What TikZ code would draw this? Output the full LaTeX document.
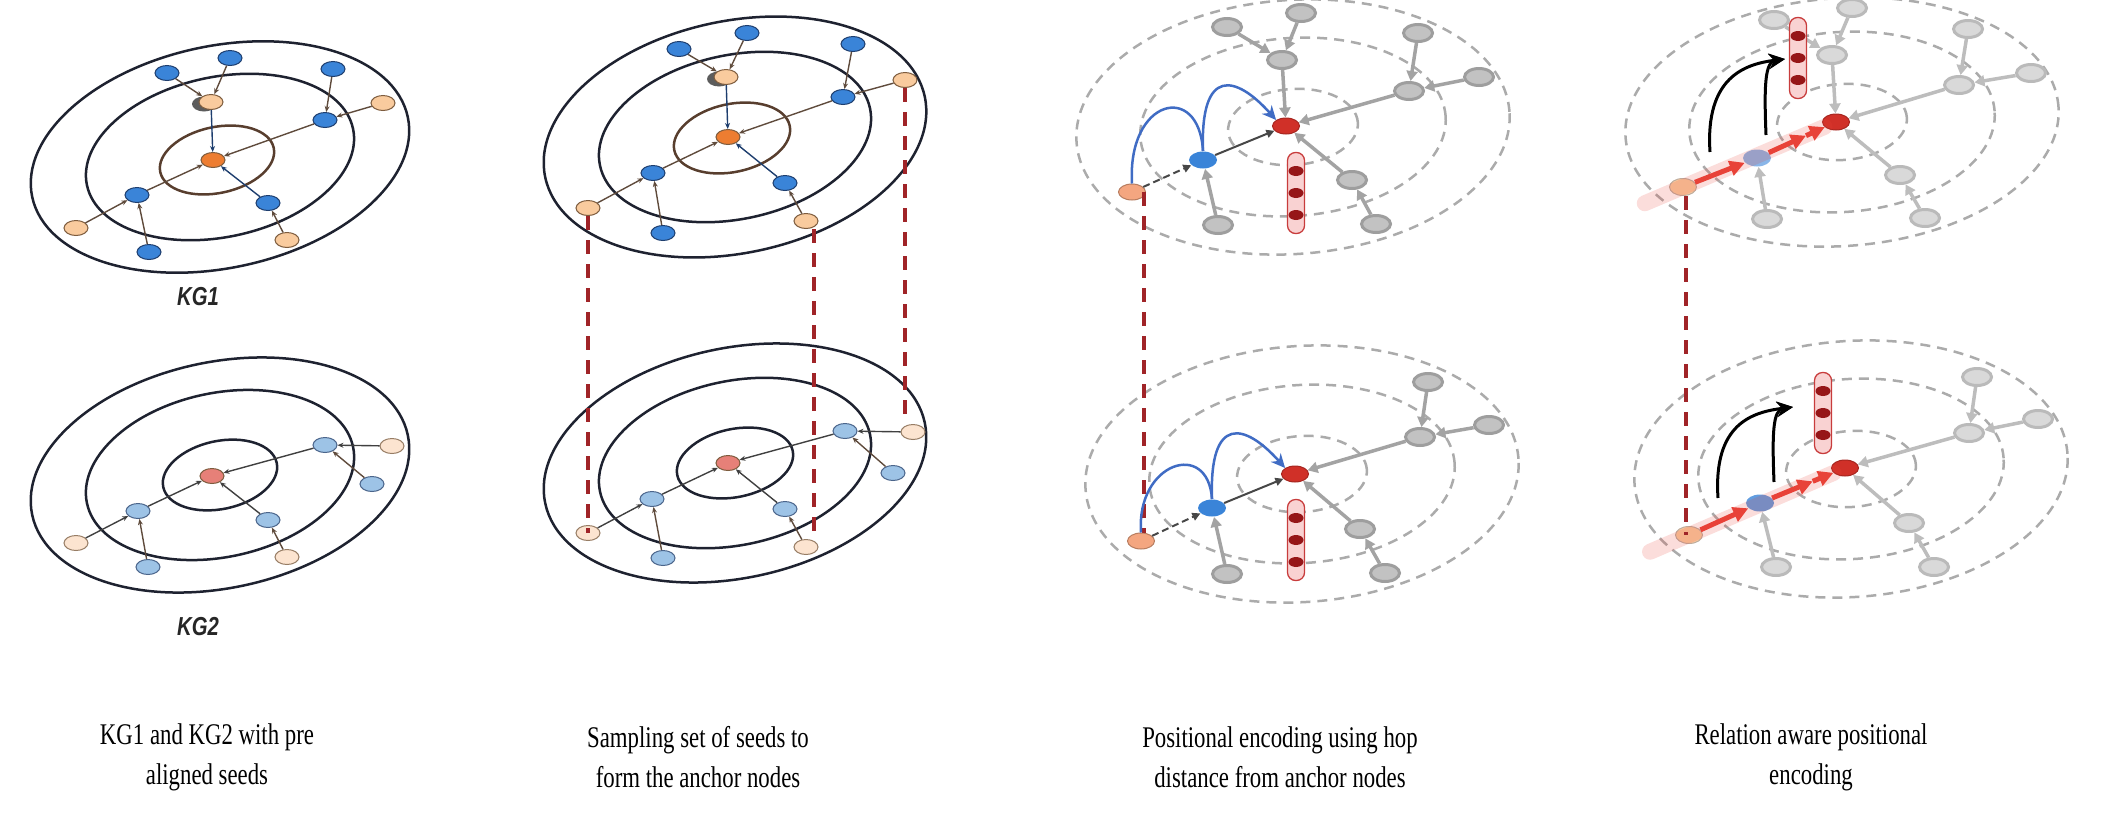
\documentclass[tikz,border=0pt]{standalone}
\usepackage{fontspec}
\setmainfont{Liberation Serif}
\newfontfamily\kgfont{Liberation Sans}
\newfontfamily\legendefont[FakeStretch=0.76]{Liberation Serif}
\usetikzlibrary{calc,shapes.geometric,arrows.meta}

\definecolor{traitanneau}{RGB}{30,34,48}
\definecolor{traitbrun}{RGB}{88,62,46}
\definecolor{bleunoeud}{RGB}{58,132,216}
\definecolor{bleubord}{RGB}{30,62,110}
\definecolor{bleuclair}{RGB}{157,195,230}
\definecolor{pechenoeud}{RGB}{249,203,158}
\definecolor{pechebord}{RGB}{125,92,62}
\definecolor{pecheclair}{RGB}{252,228,208}
\definecolor{orangecentre}{RGB}{237,125,49}
\definecolor{rosecentre}{RGB}{230,128,120}
\definecolor{lienbrun}{RGB}{95,75,60}
\definecolor{rougecentre}{RGB}{208,48,40}
\definecolor{saumon}{RGB}{244,166,128}
\definecolor{arcbleu}{RGB}{64,108,196}
\definecolor{rougealign}{RGB}{160,36,40}
\definecolor{rougefleche}{RGB}{232,66,56}
\definecolor{rosevecteur}{RGB}{249,210,210}
\definecolor{bordvecteur}{RGB}{200,60,60}
\definecolor{pointvecteur}{RGB}{150,22,24}

\tikzstyle{orbite} = [draw=traitanneau, line width=2.5pt]
\tikzstyle{orbitebrune} = [draw=traitbrun, line width=2.5pt]
\tikzstyle{orbitegrise} = [draw=black!33, line width=2.5pt, dash pattern=on 10pt off 7pt]
\tikzstyle{noeud} = [ellipse, inner sep=0pt, minimum width=24pt, minimum height=15pt, line width=1pt]
\tikzstyle{bleu} = [noeud, fill=bleunoeud, draw=bleubord]
\tikzstyle{bleupale} = [noeud, fill=bleuclair, draw=bleubord!80]
\tikzstyle{peche} = [noeud, fill=pechenoeud, draw=pechebord]
\tikzstyle{pechepale} = [noeud, fill=pecheclair, draw=pechebord!80]
\tikzstyle{centre} = [noeud, fill=orangecentre, draw=pechebord]
\tikzstyle{centrerose} = [noeud, fill=rosecentre, draw=pechebord]
\tikzstyle{ombre} = [noeud, fill=black!85, draw=none, opacity=.75]
\tikzstyle{gris} = [noeud, minimum width=29pt, minimum height=17pt, fill=black!24, draw=black!38, line width=3pt]
\tikzstyle{grisclair} = [gris, fill=black!15, draw=black!27]
\tikzstyle{ancre} = [noeud, minimum width=27pt, minimum height=16pt, fill=rougecentre, draw=rougecentre!80!black]
\tikzstyle{graine} = [noeud, minimum width=27pt, minimum height=16pt, fill=saumon, draw=saumon!75!black]
\tikzstyle{bleuvif} = [noeud, minimum width=28pt, minimum height=17pt, fill=bleunoeud, draw=none]
\tikzstyle{vecteur} = [rectangle, rounded corners=8pt, minimum width=17pt, minimum height=81pt, inner sep=0pt, fill=rosevecteur, draw=bordvecteur, line width=1.3pt]
\tikzstyle{composante} = [ellipse, inner sep=0pt, minimum width=15pt, minimum height=10pt, fill=pointvecteur]
\tikzstyle{lien} = [draw=lienbrun, line width=1.4pt, -{Stealth[length=6pt,width=5pt]}]
\tikzstyle{lienbleu} = [lien, draw=bleubord]
\tikzstyle{liensombre} = [lien, draw=black!75]
\tikzstyle{liengris} = [draw=black!36, line width=3.5pt, -{Triangle[length=10pt,width=11pt]}]
\tikzstyle{lienclair} = [liengris, draw=black!26]
\tikzstyle{liennoir} = [draw=black!72, line width=2pt, -{Triangle[length=8pt,width=8pt]}]
\tikzstyle{saut} = [draw=arcbleu, line width=2.5pt]
\tikzstyle{rebond} = [draw=black, line width=3pt, -{Stealth[length=16pt,width=15pt]}]
\tikzstyle{fleche} = [draw=rougefleche, line width=5pt, -{Triangle[length=15pt,width=15pt]}]
\tikzstyle{halo} = [draw=rougefleche, line width=16pt, opacity=.18, line cap=round]
\tikzstyle{alignement} = [draw=rougealign, line width=4pt, dash pattern=on 14pt off 10pt]
\tikzstyle{legende} = [align=center, font=\legendefont\fontsize{30}{40}\selectfont, inner sep=0pt]
\tikzstyle{titre} = [font=\kgfont\bfseries\itshape\fontsize{26}{30}\selectfont, text=black!85]

\newcommand{\orbites}[4]{\foreach \rx/\ry in {#4} {\draw[#1, rotate around={#3:(#2)}] (#2) ellipse [x radius=\rx pt, y radius=\ry pt];}}

\begin{document}
\begin{tikzpicture}[x=1pt, y=-1pt]

        \useasboundingbox (0,0) rectangle (2101,817);

        % anneaux
        \orbites{orbite}{220,157}{12}{192/111,136/80}
        \orbites{orbitebrune}{217,160}{12}{58/33}
        \orbites{orbite}{220,475}{12}{192/113,136/82,58/34}
        \orbites{orbite}{735,137}{12}{194/116,138/82}
        \orbites{orbitebrune}{732,138}{12}{59/34}
        \orbites{orbite}{735,463}{12}{194/115,138/82,59/34}
        \orbites{orbitegrise}{1293,127}{4}{217/127,153/89,65/38}
        \orbites{orbitegrise}{1302,474}{4}{217/128,153/89,65/38}
        \orbites{orbitegrise}{1842,122}{4}{217/124,153/90,65/38}
        \orbites{orbitegrise}{1851,469}{4}{217/128,153/90,65/38}

        % KG1
        \node[ombre] (Ah1o) at (204,104) {};
        \node[centre] (Ah0) at (213,160) {};
        \node[peche] (Ah1) at (211,102) {};
        \node[bleu] (Ah2) at (167,73) {};
        \node[bleu] (Ah3) at (230,58) {};
        \node[bleu] (Ah4) at (333,69) {};
        \node[bleu] (Ah5) at (325,120) {};
        \node[peche] (Ah6) at (383,103) {};
        \node[bleu] (Ah7) at (137,195) {};
        \node[peche] (Ah8) at (76,228) {};
        \node[bleu] (Ah9) at (149,252) {};
        \node[bleu] (Ah10) at (268,203) {};
        \node[peche] (Ah11) at (287,240) {};

        \draw[lienbleu] (Ah1) -- (Ah0);
        \draw[lien] (Ah5) -- (Ah0);
        \draw[lien] (Ah7) -- (Ah0);
        \draw[lienbleu] (Ah10) -- (Ah0);
        \draw[lien] (Ah2) -- (Ah1);
        \draw[lien] (Ah3) -- (Ah1);
        \draw[lien] (Ah4) -- (Ah5);
        \draw[lien] (Ah6) -- (Ah5);
        \draw[lien] (Ah8) -- (Ah7);
        \draw[lien] (Ah9) -- (Ah7);
        \draw[lien] (Ah11) -- (Ah10);

        % KG2
        \node[centrerose] (Ab0) at (212,476) {};
        \node[bleupale] (Ab1) at (325,445) {};
        \node[pechepale] (Ab2) at (392,446) {};
        \node[bleupale] (Ab3) at (372,484) {};
        \node[bleupale] (Ab4) at (138,511) {};
        \node[pechepale] (Ab5) at (76,543) {};
        \node[bleupale] (Ab6) at (148,567) {};
        \node[bleupale] (Ab7) at (268,520) {};
        \node[pechepale] (Ab8) at (287,557) {};

        \draw[liensombre] (Ab1) -- (Ab0);
        \draw[liensombre] (Ab4) -- (Ab0);
        \draw[liensombre] (Ab7) -- (Ab0);
        \draw[liensombre] (Ab2) -- (Ab1);
        \draw[lien] (Ab3) -- (Ab1);
        \draw[liensombre] (Ab5) -- (Ab4);
        \draw[lien] (Ab6) -- (Ab4);
        \draw[lien] (Ab8) -- (Ab7);

        % echantillonnage, haut
        \node[ombre] (Bh1o) at (719,79) {};
        \node[centre] (Bh0) at (728,137) {};
        \node[peche] (Bh1) at (726,77) {};
        \node[bleu] (Bh2) at (679,49) {};
        \node[bleu] (Bh3) at (747,33) {};
        \node[bleu] (Bh4) at (853,44) {};
        \node[bleu] (Bh5) at (843,97) {};
        \node[peche] (Bh6) at (905,80) {};
        \node[bleu] (Bh7) at (653,173) {};
        \node[peche] (Bh8) at (588,208) {};
        \node[bleu] (Bh9) at (663,233) {};
        \node[bleu] (Bh10) at (785,183) {};
        \node[peche] (Bh11) at (806,221) {};

        \draw[lienbleu] (Bh1) -- (Bh0);
        \draw[lien] (Bh5) -- (Bh0);
        \draw[lien] (Bh7) -- (Bh0);
        \draw[lienbleu] (Bh10) -- (Bh0);
        \draw[lien] (Bh2) -- (Bh1);
        \draw[lien] (Bh3) -- (Bh1);
        \draw[lien] (Bh4) -- (Bh5);
        \draw[lien] (Bh6) -- (Bh5);
        \draw[lien] (Bh8) -- (Bh7);
        \draw[lien] (Bh9) -- (Bh7);
        \draw[lien] (Bh11) -- (Bh10);

        % echantillonnage, bas
        \node[centrerose] (Bb0) at (728,463) {};
        \node[bleupale] (Bb1) at (845,431) {};
        \node[pechepale] (Bb2) at (913,432) {};
        \node[bleupale] (Bb3) at (893,473) {};
        \node[bleupale] (Bb4) at (652,499) {};
        \node[pechepale] (Bb5) at (588,533) {};
        \node[bleupale] (Bb6) at (663,558) {};
        \node[bleupale] (Bb7) at (785,509) {};
        \node[pechepale] (Bb8) at (806,547) {};

        \draw[liensombre] (Bb1) -- (Bb0);
        \draw[liensombre] (Bb4) -- (Bb0);
        \draw[liensombre] (Bb7) -- (Bb0);
        \draw[liensombre] (Bb2) -- (Bb1);
        \draw[lien] (Bb3) -- (Bb1);
        \draw[liensombre] (Bb5) -- (Bb4);
        \draw[lien] (Bb6) -- (Bb4);
        \draw[lien] (Bb8) -- (Bb7);

        % encodage par sauts, haut
        \node[ancre] (Ch0) at (1286,126) {};
        \node[bleuvif] (Ch1) at (1203,160) {};
        \node[graine] (Ch2) at (1132,192) {};
        \node[gris] (Ch3) at (1227,27) {};
        \node[gris] (Ch4) at (1301,13) {};
        \node[gris] (Ch5) at (1282,60) {};
        \node[gris] (Ch6) at (1418,33) {};
        \node[gris] (Ch7) at (1409,91) {};
        \node[gris] (Ch8) at (1479,77) {};
        \node[gris] (Ch9) at (1352,180) {};
        \node[gris] (Ch10) at (1218,225) {};
        \node[gris] (Ch11) at (1376,224) {};

        \draw[liengris] (Ch3) -- (Ch5);
        \draw[liengris] (Ch4) -- (Ch5);
        \draw[liengris] (Ch5) -- (Ch0);
        \draw[liengris] (Ch6) -- (Ch7);
        \draw[liengris] (Ch8) -- (Ch7);
        \draw[liengris] (Ch7) -- (Ch0);
        \draw[liengris] (Ch9) -- (Ch0);
        \draw[liengris] (Ch11) -- (Ch9);
        \draw[liengris] (Ch10) -- (Ch1);
        \draw[liennoir, dash pattern=on 7pt off 4pt] (Ch2) -- (Ch1);
        \draw[liennoir] (Ch1) -- (Ch0);

        % encodage par sauts, bas
        \node[ancre] (Cb0) at (1295,474) {};
        \node[bleuvif] (Cb1) at (1212,508) {};
        \node[graine] (Cb2) at (1141,541) {};
        \node[gris] (Cb3) at (1428,382) {};
        \node[gris] (Cb4) at (1420,437) {};
        \node[gris] (Cb5) at (1489,425) {};
        \node[gris] (Cb6) at (1360,529) {};
        \node[gris] (Cb7) at (1227,574) {};
        \node[gris] (Cb8) at (1385,573) {};

        \draw[liengris] (Cb3) -- (Cb4);
        \draw[liengris] (Cb5) -- (Cb4);
        \draw[liengris] (Cb4) -- (Cb0);
        \draw[liengris] (Cb6) -- (Cb0);
        \draw[liengris] (Cb8) -- (Cb6);
        \draw[liengris] (Cb7) -- (Cb1);
        \draw[liennoir, dash pattern=on 7pt off 4pt] (Cb2) -- (Cb1);
        \draw[liennoir] (Cb1) -- (Cb0);

        % encodage avec relations, haut
        \node[grisclair] (Dh3) at (1774,20) {};
        \node[grisclair] (Dh4) at (1852,8) {};
        \node[grisclair] (Dh5) at (1832,55) {};
        \node[grisclair] (Dh6) at (1968,29) {};
        \node[grisclair] (Dh7) at (1959,85) {};
        \node[grisclair] (Dh8) at (2031,73) {};
        \node[grisclair] (Dh9) at (1900,175) {};
        \node[grisclair] (Dh10) at (1767,219) {};
        \node[grisclair] (Dh11) at (1925,218) {};
        \node[ancre] (Dh0) at (1836,122) {};
        \node[bleuvif, opacity=.6] (Dh1) at (1757,158) {};
        \node[peche, minimum width=27pt, minimum height=17pt, draw=pechebord!50] (Dh2) at (1683,187) {};

        \draw[lienclair] (Dh3) -- (Dh5);
        \draw[lienclair] (Dh4) -- (Dh5);
        \draw[lienclair] (Dh5) -- (Dh0);
        \draw[lienclair] (Dh6) -- (Dh7);
        \draw[lienclair] (Dh8) -- (Dh7);
        \draw[lienclair] (Dh7) -- (Dh0);
        \draw[lienclair] (Dh9) -- (Dh0);
        \draw[lienclair] (Dh11) -- (Dh9);
        \draw[lienclair] (Dh10) -- (Dh1);

        \coordinate (Dhq) at ($(Dh2)!-0.25!(Dh0)$);
        \coordinate (Dhm) at ($(Dh1)!0.62!(Dh0)$);
        \draw[halo] (Dhq) -- (Dh0);
        \draw[fleche] (Dh2) -- (Dh1);
        \draw[fleche] (Dh1) -- (Dhm);
        \draw[fleche] (Dhm) -- (Dh0);

        % encodage avec relations, bas
        \node[grisclair] (Db3) at (1977,377) {};
        \node[grisclair] (Db4) at (1969,433) {};
        \node[grisclair] (Db5) at (2038,419) {};
        \node[grisclair] (Db6) at (1909,523) {};
        \node[grisclair] (Db7) at (1776,567) {};
        \node[grisclair] (Db8) at (1934,567) {};
        \node[ancre] (Db0) at (1845,468) {};
        \node[bleuvif, opacity=.8] (Db1) at (1760,503) {};
        \node[peche, minimum width=27pt, minimum height=17pt, draw=pechebord!50] (Db2) at (1689,535) {};

        \draw[lienclair] (Db3) -- (Db4);
        \draw[lienclair] (Db5) -- (Db4);
        \draw[lienclair] (Db4) -- (Db0);
        \draw[lienclair] (Db6) -- (Db0);
        \draw[lienclair] (Db8) -- (Db6);
        \draw[lienclair] (Db7) -- (Db1);

        \coordinate (Dbq) at ($(Db2)!-0.25!(Db0)$);
        \coordinate (Dbm) at ($(Db1)!0.62!(Db0)$);
        \draw[halo] (Dbq) -- (Db0);
        \draw[fleche] (Db2) -- (Db1);
        \draw[fleche] (Db1) -- (Dbm);
        \draw[fleche] (Dbm) -- (Db0);

        % vecteurs de position
        \node[vecteur] (Chv) at (1296,193) {};
        \node[vecteur] (Cbv) at (1296,540) {};
        \node[vecteur] (Dhv) at (1798,58) {};
        \node[vecteur] (Dbv) at (1823,413) {};
        \foreach \v in {Chv,Cbv,Dhv,Dbv}
            \foreach \k/\d in {1/-22,2/0,3/22}
                \node[composante] (\v\k) at ($(\v)+(0,\d)$) {};

        % graines alignees
        \draw[alignement] (Bh8.south) -- (Bh8.south |- Bb5.center);
        \draw[alignement] ([xshift=8pt]Bh11.south) -- ([xshift=8pt]Bh11.south |- Bb8.north);
        \draw[alignement] (Bh6.south) -- (Bh6.south |- Bb2.north);
        \draw[alignement] ([xshift=12pt]Ch2.center) -- ([xshift=12pt]Ch2.center |- Cb2.north);
        \draw[alignement] ([xshift=3pt]Dh2.south) -- ([xshift=3pt]Dh2.south |- Db2.center);

        % sauts
        \draw[saut] (Ch2.north) .. controls +(-5,-85) and +(-4,-70) .. (Ch1.north);
        \draw[saut, -{Stealth[length=14pt,width=13pt]}] (Ch1.north) .. controls +(-3,-85) and +(-40,-45) .. (Ch0.north west);
        \draw[saut] (Cb2.north) .. controls +(-5,-70) and +(-4,-60) .. (Cb1.north);
        \draw[saut, -{Stealth[length=14pt,width=13pt]}] (Cb1.north) .. controls +(-3,-85) and +(-40,-45) .. (Cb0.north west);

        \coordinate (Dhs) at (1710,152);
        \coordinate (Dhs2) at (1766,135);
        \coordinate (Dht) at (1785,59);
        \draw[rebond] (Dhs) .. controls +(-5,-75) and +(-40,5) .. (Dht);
        \draw[rebond] (Dhs2) .. controls +(-2,-50) and +(-20,3) .. (Dht);
        \coordinate (Dbs) at (1718,498);
        \coordinate (Dbs2) at (1774,482);
        \coordinate (Dbt) at (1793,407);
        \draw[rebond] (Dbs) .. controls +(-5,-75) and +(-40,5) .. (Dbt);
        \draw[rebond] (Dbs2) .. controls +(-2,-50) and +(-20,3) .. (Dbt);

        % textes
        \node[titre] (KG1) at (198,297) {\scalebox{0.78}[1]{KG1}};
        \node[titre] (KG2) at (198,627) {\scalebox{0.78}[1]{KG2}};
        \node[legende] (L1) at (207,757) {KG1 and KG2 with pre\\aligned seeds};
        \node[legende] (L2) at (698,757) {Sampling set of seeds to\\form the anchor nodes};
        \node[legende] (L3) at (1280,757) {Positional encoding using hop\\distance from anchor nodes};
        \node[legende] (L4) at (1811,757) {Relation aware positional\\encoding};

    \end{tikzpicture}
\end{document}
